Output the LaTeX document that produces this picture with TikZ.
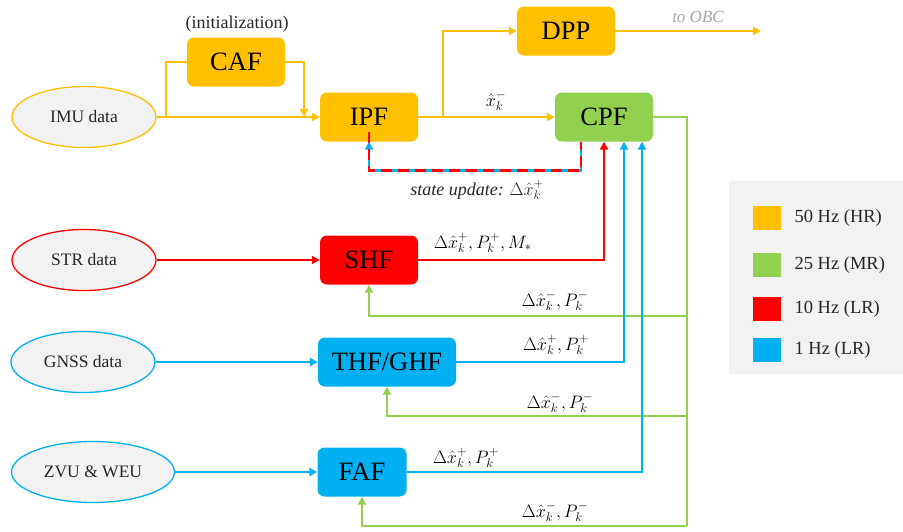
\RequirePackage{fix-cm}
\documentclass[tikz,border=0pt]{standalone}
\usepackage{fontspec}
\setmainfont{Liberation Serif}
\usetikzlibrary{arrows.meta,shapes.geometric}
\definecolor{cOr}{HTML}{FFC000}
\definecolor{cGr}{HTML}{92D050}
\definecolor{cRd}{HTML}{FF0000}
\definecolor{cBl}{HTML}{00B0F0}
\definecolor{cFill}{HTML}{F2F2F2}
\definecolor{cTxt}{HTML}{262626}
\definecolor{cGray}{HTML}{A6A6A6}
\tikzset{
  ell/.style={ellipse, fill=cFill, line width=1.3pt, minimum height=61pt, inner sep=0pt,
    font=\fontsize{17.5}{20}\selectfont, text=cTxt},
  blk/.style={rounded corners=7pt, minimum height=49pt, inner sep=0pt,
    font=\fontsize{26.5}{30}\selectfont},
  wire/.style={line width=2.5pt},
  arr/.style={wire, -{Triangle[length=8pt,width=8pt]}},
  lab/.style={font=\fontsize{18}{20}\selectfont, text=black},
  leg/.style={minimum width=28pt, minimum height=24pt, inner sep=0pt},
  legt/.style={anchor=west, font=\fontsize{18.5}{22}\selectfont, text=cTxt}
}
\begin{document}
\begin{tikzpicture}[x=1pt,y=-1pt]
\useasboundingbox (0,0) rectangle (903,531);
% legend background
\fill[cFill] (729,181) rectangle (903,374);
% input ellipses
\node[ell, draw=cOr, minimum width=144pt] (imu) at (84,117) {IMU data};
\node[ell, draw=cRd, minimum width=144pt] (str) at (84,260) {STR data};
\node[ell, draw=cBl, minimum width=144pt] (gnss) at (83,362) {GNSS data};
\node[ell, draw=cBl, minimum width=163pt] (zvu) at (93,472) {ZVU \& WEU};
% blocks
\node[blk, fill=cOr, minimum width=98pt] (caf) at (236,62) {CAF};
\node[lab, font=\fontsize{18}{20}\selectfont, text=cTxt] (init) at (237,24) {(initialization)};
\node[blk, fill=cOr, minimum width=98pt] (ipf) at (369,117) {IPF};
\node[blk, fill=cOr, minimum width=98pt] (dpp) at (566,31) {DPP};
\node[blk, fill=cGr, minimum width=98pt] (cpf) at (604,117) {CPF};
\node[blk, fill=cRd, minimum width=98pt] (shf) at (369,260) {SHF};
\node[blk, fill=cBl, minimum width=138pt] (thf) at (387,362) {THF/GHF};
\node[blk, fill=cBl, minimum width=89pt] (faf) at (362,472) {FAF};
% helper coordinates
\coordinate (j1) at (166,117);
\coordinate (j2) at (304,117);
\coordinate (j3) at (443,117);
\coordinate (obc) at (761,31);
\coordinate (gR) at (687,117);
\coordinate (gB) at (687,526);
% orange connectors
\draw[arr, cOr] (imu.east) -- (ipf.west);
\draw[wire, cOr] (j1) |- (caf.west);
\draw[arr, cOr] (caf.east) -| (j2);
\draw[arr, cOr] (ipf.east) -- (cpf.west);
\draw[arr, cOr] (j3) |- (dpp.west);
\draw[arr, cOr] (dpp.east) -- (obc);
\node[font=\fontsize{17}{20}\selectfont\itshape, text=cGray] (obcl) at (698,17) {to OBC};
\node[lab] (xkm) at (496,101) {$\hat{x}_k^{-}$};
% state update dashed
\draw[arr, cBl] ([xshift=-23pt]cpf.south) -- ++(0,29) -| (ipf.south);
\draw[wire, cRd, dash pattern=on 11pt off 6pt, dash phase=3pt] ([xshift=-23pt]cpf.south) -- ++(0,29) -| ([yshift=10pt]ipf.south);
\node[lab, text=cTxt] (su) at (477,190) {\itshape state update: $\Delta\hat{x}_k^{+}$};
% green feedback
\draw[wire, cGr] (cpf.east) -- (gR) -- (gB);
\draw[arr, cGr] (gB) -| (faf.south);
\draw[arr, cGr] (687,316) -| (shf.south);
\draw[arr, cGr] (687,416) -| (thf.south);
% inputs to filters
\draw[arr, cRd] (str.east) -- (shf.west);
\draw[arr, cBl] (gnss.east) -- (thf.west);
\draw[arr, cBl] (zvu.east) -- (faf.west);
% outputs to CPF
\draw[arr, cRd] (shf.east) -| (cpf.south);
\draw[arr, cBl] (thf.east) -| ([xshift=20pt]cpf.south);
\draw[arr, cBl] (faf.east) -| ([xshift=38pt]cpf.south);
% labels
\node[lab] (l1) at (483,243) {$\Delta\hat{x}_k^{+}, P_k^{+}, M_{*}$};
\node[lab] (l2) at (555,301) {$\Delta\hat{x}_k^{-}, P_k^{-}$};
\node[lab] (l3) at (556,345) {$\Delta\hat{x}_k^{+}, P_k^{+}$};
\node[lab] (l4) at (560,403) {$\Delta\hat{x}_k^{-}, P_k^{-}$};
\node[lab] (l5) at (466,458) {$\Delta\hat{x}_k^{+}, P_k^{+}$};
\node[lab] (l6) at (555,512) {$\Delta\hat{x}_k^{-}, P_k^{-}$};
% legend
\node[leg, fill=cOr] (s1) at (767,218) {};
\node[leg, fill=cGr] (s2) at (767,265) {};
\node[leg, fill=cRd] (s3) at (767,309) {};
\node[leg, fill=cBl] (s4) at (767,350) {};
\node[legt] (t1) at (791,218) {50 Hz (HR)};
\node[legt] (t2) at (791,265) {25 Hz (MR)};
\node[legt] (t3) at (791,309) {10 Hz (LR)};
\node[legt] (t4) at (791,350) {1 Hz (LR)};
\end{tikzpicture}
\end{document}
